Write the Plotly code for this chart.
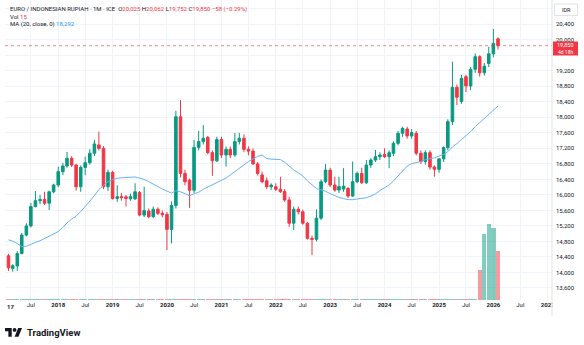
import pandas as pd
import plotly.graph_objects as go

# Monthly EUR/IDR bars, Feb 2017 .. Feb 2026
months = pd.date_range("2017-02-01", "2026-02-01", freq="MS")

open_ = [
    14430, 14100, 14170, 14490, 14965, 15200, 15700, 15850, 15885, 15785, 16080,
    16255, 16600, 16745, 16945, 16770, 16210, 16710, 16830, 17075, 17290, 17200, 16210,
    16580, 15910, 15955, 15950, 15900, 15900, 16060, 15480, 15585, 15440, 15630, 15525,
    15500, 15110, 15730, 18015, 16555, 16380, 16120, 17225, 17375, 17485, 17090, 16880,
    17430, 17030, 17175, 17030, 17375, 17460, 17175, 17130, 16800, 16515, 16365, 16210,
    16210, 16145, 16085, 15870, 15270, 15630, 15565, 15270, 14880, 14855, 15400, 16340,
    16640, 16255, 16125, 16150, 16170, 15970, 16340, 16555, 16315, 16770, 16900, 16985,
    17045, 16985, 17075, 17330, 17590, 17700, 17520, 17590, 17075, 16860, 17090, 16720,
    16660, 16930, 17220, 17890, 18775, 18410, 19050, 18810, 19240, 19565, 19150, 19390,
    19640, 20025,
]
high = [
    14480, 14210, 14550, 15020, 15270, 15790, 16100, 16000, 16080, 16110, 16290,
    16730, 16830, 17110, 17000, 16800, 16760, 16985, 17180, 17420, 17630, 17260, 16650,
    16620, 16250, 16050, 16000, 16030, 16300, 16100, 16210, 15650, 15700, 15680, 15600,
    15560, 15830, 18170, 18450, 16650, 16420, 17420, 17650, 17800, 17520, 17150, 17500,
    17500, 17250, 17250, 17600, 17600, 17560, 17250, 17200, 16850, 16600, 16450, 16300,
    16300, 16470, 16150, 15950, 15700, 15700, 15620, 15300, 14950, 15630, 16400, 16800,
    16700, 16470, 16470, 16690, 16200, 16860, 16600, 16700, 16900, 16950, 17160, 17100,
    17200, 17150, 17380, 17650, 17760, 17760, 17700, 17650, 17150, 17150, 17150, 16760,
    16950, 17250, 17950, 19435, 18850, 19100, 19100, 19300, 19650, 19600, 19400, 19820,
    20280, 20062,
]
low = [
    14040, 14020, 14040, 14470, 14930, 15160, 15680, 15760, 15740, 15610, 16040,
    16200, 16510, 16700, 16720, 16110, 16080, 16510, 16780, 17000, 17150, 16150, 16100,
    15880, 15820, 15850, 15700, 15850, 15870, 15450, 15430, 15400, 15400, 15480, 15420,
    14580, 14750, 15650, 16450, 16250, 15660, 16050, 17150, 17300, 17050, 16490, 16850,
    16950, 16730, 16950, 16980, 17300, 17100, 17020, 16780, 16500, 16300, 16150, 16130,
    16100, 16050, 15820, 15180, 15095, 15500, 15230, 14850, 14450, 14800, 15350, 16300,
    16200, 16080, 16050, 16080, 15920, 15950, 16300, 16280, 16280, 16700, 16850, 16900,
    16950, 16690, 17000, 17280, 17500, 17450, 17450, 17020, 16800, 16780, 16650, 16470,
    16570, 16850, 17150, 17800, 18320, 18350, 18650, 18700, 19150, 19050, 19080, 19300,
    19550, 19752,
]
close = [
    14120, 14175, 14490, 14965, 15200, 15700, 15850, 15880, 15785, 16080, 16255,
    16600, 16745, 16945, 16770, 16210, 16710, 16830, 17075, 17315, 17200, 16210, 16580,
    15910, 15955, 15930, 15910, 15955, 16080, 15480, 15595, 15440, 15630, 15525, 15490,
    15110, 15730, 18015, 16555, 16340, 16120, 17225, 17375, 17460, 17090, 16880, 17430,
    17030, 17175, 17030, 17375, 17460, 17175, 17130, 16800, 16555, 16340, 16210, 16255,
    16145, 16085, 15870, 15270, 15630, 15565, 15270, 14880, 14855, 15400, 16340, 16640,
    16255, 16125, 16215, 16225, 15970, 16340, 16555, 16315, 16770, 16900, 16985, 17030,
    16985, 17090, 17330, 17590, 17715, 17520, 17610, 17075, 16860, 17090, 16720, 16660,
    16930, 17220, 17890, 18775, 18520, 19005, 18810, 19240, 19565, 19150, 19320, 19640,
    19908, 19850,
]
volume = [
    0.45, 0.45, 0.45, 0.45, 0.45, 0.45, 0.45, 0.45, 0.45, 0.45, 0.45,
    0.45, 0.45, 0.45, 0.45, 0.45, 0.45, 0.45, 0.45, 0.45, 0.45, 0.45, 0.45,
    0.45, 0.45, 0.45, 0.45, 0.45, 0.45, 0.45, 0.45, 0.45, 0.45, 0.45, 0.45,
    0.45, 0.45, 0.45, 0.45, 0.45, 0.45, 0.45, 0.45, 0.45, 0.45, 0.45, 0.45,
    0.45, 0.45, 0.45, 0.45, 0.45, 0.45, 0.45, 0.45, 0.45, 0.45, 0.45, 0.45,
    0.45, 0.45, 0.45, 0.45, 0.45, 0.45, 0.45, 0.45, 0.45, 0.45, 0.45, 0.45,
    0.45, 0.45, 0.45, 0.45, 0.45, 0.45, 0.45, 0.45, 0.45, 0.45, 0.45, 0.45,
    0.45, 0.45, 0.45, 0.45, 0.45, 0.45, 0.45, 0.45, 0.45, 0.45, 0.45, 0.45,
    0.45, 0.45, 0.45, 0.45, 0.45, 0.45, 0.45, 0.45, 0.45, 9, 20, 23,
    22, 15,
]
# Closes Jul 2015 .. Jan 2017, only used to warm up the 20-month average
prior_close = [
    14830, 15770, 16470, 15050, 14570, 15030,
    15020, 14630, 15020, 15190, 15140, 14630, 14600, 14820, 14690, 14310, 14350, 14200,
    14400,
]

tick_dates = [
    "2017-07-01", "2018-01-01", "2018-07-01", "2019-01-01", "2019-07-01",
    "2020-01-01", "2020-07-01", "2021-01-01", "2021-07-01", "2022-01-01",
    "2022-07-01", "2023-01-01", "2023-07-01", "2024-01-01", "2024-07-01",
    "2025-01-01", "2025-07-01", "2026-01-01", "2026-07-01", "2027-01-01",
]
tick_labels = [
    "Jul", "2018", "Jul", "2019", "Jul", "2020", "Jul", "2021", "Jul", "2022",
    "Jul", "2023", "Jul", "2024", "Jul", "2025", "Jul", "2026", "Jul", "2027",
]
price_ticks = list(range(13600, 21200, 400))
hidden_price_labels = [19600, 20800]  # covered by the last-price tag and the currency tag

UP, DOWN = "#089981", "#f23645"
TEXT = "#131722"
GRID = "#f0f3fa"
BORDER = "#e0e3eb"
FONT = "Roboto, 'Liberation Sans', sans-serif"

ma = (pd.Series(prior_close + close).rolling(20).mean()
      .iloc[len(prior_close):].to_numpy())
vol_colors = ["rgba(8,153,129,0.5)" if c >= o else "rgba(242,54,69,0.5)"
              for o, c in zip(open_, close)]

# plot area in pixels: x 5..552, y 0..300
L_PX, R_PX, T_PX, B_PX = 5, 552, 0, 300


def px(x):
    return (x - L_PX) / (R_PX - L_PX)


def py(y):
    return (B_PX - y) / (B_PX - T_PX)


fig = go.Figure()
fig.add_trace(go.Bar(
    x=months, y=volume, yaxis="y2",
    marker=dict(color=vol_colors, line_width=0),
    width=29 * 86400000, hoverinfo="skip",
))
fig.add_trace(go.Candlestick(
    x=months, open=open_, high=high, low=low, close=close,
    increasing=dict(line=dict(color=UP, width=1), fillcolor=UP),
    decreasing=dict(line=dict(color=DOWN, width=1), fillcolor=DOWN),
    whiskerwidth=0,
))
fig.add_trace(go.Scatter(
    x=months, y=ma, mode="lines",
    line=dict(color="#66b3f4", width=1), hoverinfo="skip",
))

shapes = []
annotations = []

# last price line
shapes.append(dict(type="line", xref="paper", yref="y", x0=0, x1=1,
                   y0=close[-1], y1=close[-1],
                   line=dict(color="rgba(242,54,69,0.6)", width=1, dash="dot")))

# clip the time-axis labels at the price-scale border
shapes.append(dict(type="rect", xref="paper", yref="paper", layer="above",
                   x0=px(552.5), x1=px(584), y0=py(320), y1=py(300.5),
                   fillcolor="white", line_width=0))
shapes.append(dict(type="line", xref="paper", yref="paper", layer="above",
                   x0=px(552), x1=px(552), y0=py(316), y1=py(0),
                   line=dict(color=BORDER, width=1)))

# currency tag
shapes.append(dict(type="rect", xref="paper", yref="paper", layer="above",
                   x0=px(554.5), x1=px(577.5), y0=py(15.5), y1=py(4),
                   fillcolor="white", line=dict(color=BORDER, width=1)))
annotations.append(dict(xref="paper", yref="paper", x=px(566), y=py(9.8),
                        text="IDR", showarrow=False, xanchor="center", yanchor="middle",
                        font=dict(size=5.5, color=TEXT, family=FONT)))

# last price tag
shapes.append(dict(type="rect", xref="paper", yref="paper", layer="above",
                   x0=px(553), x1=px(578), y0=py(55.5), y1=py(41.5),
                   fillcolor=DOWN, line_width=0))
annotations.append(dict(xref="paper", yref="paper", x=px(565.5), y=py(45.3),
                        text=f"{close[-1]:,}", showarrow=False,
                        xanchor="center", yanchor="middle",
                        font=dict(size=5.5, color="white", family=FONT)))
annotations.append(dict(xref="paper", yref="paper", x=px(565.5), y=py(51.8),
                        text="4d 18h", showarrow=False,
                        xanchor="center", yanchor="middle",
                        font=dict(size=5, color="white", family=FONT)))

# legend header
red = lambda s: f"<span style='color:{DOWN}'>{s}</span>"
chg = close[-1] - close[-2]
pct = chg / close[-2] * 100
sp = "\u2002"
line1 = (f"EURO / INDONESIAN RUPIAH · 1M · ICE{sp}"
         f"O{red(f'{open_[-1]:,}')} H{red(f'{high[-1]:,}')} "
         f"L{red(f'{low[-1]:,}')} C{red(f'{close[-1]:,}')} "
         + red(f"{chg:+,}".replace("-", "\u2212") + f" ({pct:+.2f}%)".replace("-", "\u2212")))
line2 = f"Vol {red(f'{volume[-1]:g}')}"
line3 = f"MA (20, close, 0) <span style='color:#2196f3'>{ma[-1]:,.0f}</span>"
for txt, yy in [(line1, 8.7), (line2, 16.3), (line3, 24.3)]:
    annotations.append(dict(xref="paper", yref="paper", x=px(8), y=py(yy),
                            text=txt, showarrow=False, xanchor="left", yanchor="middle",
                            font=dict(size=6, color=TEXT, family=FONT)))

# partially visible first year label
annotations.append(dict(xref="paper", yref="paper", x=px(4.5), y=py(306.5),
                        text="<b>17</b>", showarrow=False, xanchor="left", yanchor="middle",
                        font=dict(size=6, color=TEXT, family=FONT)))

# TradingView mark
s, ox, oy = 0.48, 5, 328


def logo_pt(u, v):
    return f"{px(ox + s * u):.5f},{py(oy + s * (v - 4)):.5f}"


t_path = "M" + " L".join(logo_pt(u, v) for u, v in
                         [(14, 22), (7, 22), (7, 11), (0, 11), (0, 4), (14, 4)]) + " Z"
v_path = "M" + " L".join(logo_pt(u, v) for u, v in
                         [(28, 22), (20, 22), (27.5, 4), (35.5, 4)]) + " Z"
for p in (t_path, v_path):
    shapes.append(dict(type="path", xref="paper", yref="paper", path=p,
                       fillcolor=TEXT, line_width=0, layer="above"))
shapes.append(dict(type="circle", xref="paper", yref="paper", layer="above",
                   x0=px(ox + s * 16), x1=px(ox + s * 24),
                   y0=py(oy + s * 8), y1=py(oy + s * 0),
                   fillcolor=TEXT, line_width=0))
annotations.append(dict(xref="paper", yref="paper", x=px(24.5), y=py(332),
                        text="<b>TradingView</b>", showarrow=False,
                        xanchor="left", yanchor="middle",
                        font=dict(size=9.5, color=TEXT, family=FONT)))

fig.update_layout(
    width=584, height=345,
    margin=dict(l=L_PX, r=584 - R_PX, t=T_PX, b=345 - B_PX, pad=0),
    paper_bgcolor="white", plot_bgcolor="white",
    showlegend=False, boxgap=0.12, bargap=0,
    font=dict(family=FONT, size=6, color=TEXT),
    xaxis=dict(
        type="date", range=["2017-01-08 12:00", "2027-01-29 14:00"],
        tickmode="array", tickvals=tick_dates,
        ticktext=[f"<b>{t}</b>" if t.isdigit() else t for t in tick_labels],
        tickfont=dict(size=6, color=TEXT, family=FONT),
        showgrid=True, gridcolor=GRID, gridwidth=1,
        ticks="", showline=False, zeroline=False,
        rangeslider=dict(visible=False), fixedrange=True,
    ),
    yaxis=dict(
        side="right", range=[13290, 21027],
        tickmode="array", tickvals=price_ticks,
        ticktext=["" if v in hidden_price_labels else f"{v:,}" for v in price_ticks],
        tickfont=dict(size=6, color=TEXT, family=FONT),
        showgrid=True, gridcolor=GRID, gridwidth=1,
        ticks="", showline=False, zeroline=False, ticklabelstandoff=3,
    ),
    yaxis2=dict(overlaying="y", range=[0, 91.3], visible=False, fixedrange=True),
    shapes=shapes, annotations=annotations,
)

fig.write_html("out.html")
